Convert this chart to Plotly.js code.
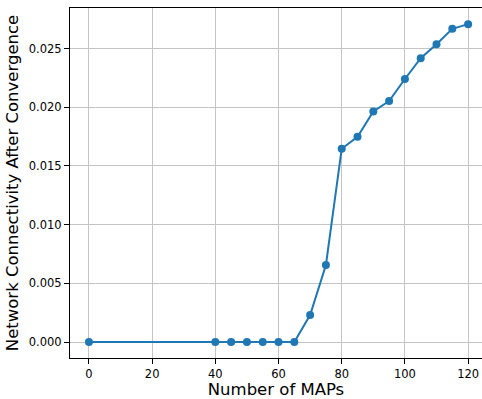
<!DOCTYPE html>
<html>
<head>
<meta charset="utf-8">
<script src="https://cdn.plot.ly/plotly-3.0.1.min.js"></script>
<style>html,body{margin:0;padding:0;background:#fff;}#chart{width:482px;height:399px;}</style>
</head>
<body>
<div id="chart"></div>
<script>
const numMAPs = [0, 40, 45, 50, 55, 60, 65, 70, 75, 80, 85, 90, 95, 100, 105, 110, 115, 120];
const connectivity = [0, 0, 0, 0, 0, 0, 0, 0.0023, 0.00657, 0.01647, 0.01749, 0.01965, 0.02053, 0.02241, 0.02418, 0.02537, 0.02668, 0.02708];
const xTicks = [0, 20, 40, 60, 80, 100, 120];
const yTicks = [0, 0.005, 0.010, 0.015, 0.020, 0.025];
const yTickText = ['0.000', '0.005', '0.010', '0.015', '0.020', '0.025'];

const trace = {
  x: numMAPs, y: connectivity, type: 'scatter', mode: 'lines+markers',
  line: {color: '#1f77b4', width: 2},
  marker: {color: '#1f77b4', size: 8},
  cliponaxis: false
};
const font = {family: 'DejaVu Sans', color: '#000'};
const layout = {
  width: 482, height: 399,
  margin: {l: 70, r: 0, t: 8, b: 41},
  paper_bgcolor: '#fff', plot_bgcolor: '#fff',
  showlegend: false,
  font: font,
  xaxis: {
    range: [-6, 124.4], tickvals: xTicks, ticktext: xTicks.map(String),
    showgrid: true, gridcolor: '#c4c4c4', gridwidth: 1, zeroline: false,
    showline: true, linecolor: '#000', linewidth: 1, mirror: true,
    ticks: 'outside', ticklen: 5, tickcolor: '#000', tickfont: {family: 'DejaVu Sans', size: 11.5, color: '#000'},
    title: {text: 'Number of MAPs', font: {family: 'DejaVu Sans', size: 16.5, color: '#000'}, standoff: 3}
  },
  yaxis: {
    range: [-0.001355, 0.028455], tickvals: yTicks, ticktext: yTickText,
    showgrid: true, gridcolor: '#c4c4c4', gridwidth: 1, zeroline: false,
    showline: true, linecolor: '#000', linewidth: 1,
    ticks: 'outside', ticklen: 5, tickcolor: '#000', tickfont: {family: 'DejaVu Sans', size: 11.5, color: '#000'},
    title: {text: 'Network Connectivity After Convergence', font: {family: 'DejaVu Sans', size: 16.5, color: '#000'}, standoff: 5}
  }
};
Plotly.newPlot('chart', [trace], layout, {displayModeBar: false, staticPlot: true});
</script>
</body>
</html>
